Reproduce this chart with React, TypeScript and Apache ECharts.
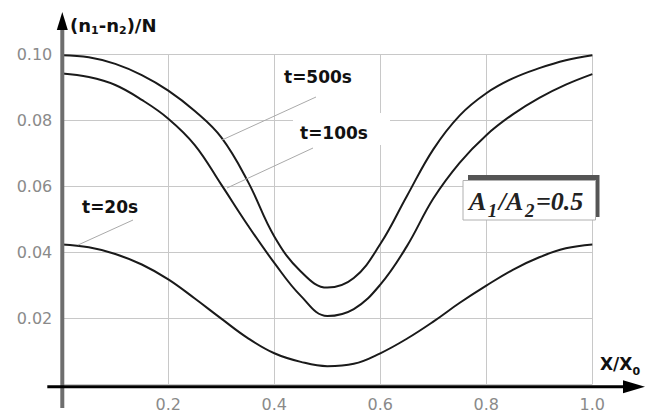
import React, { useEffect, useRef } from 'react';
import * as echarts from 'echarts';

const xValues = [0, 0.05, 0.1, 0.15, 0.2, 0.25, 0.3, 0.35, 0.4, 0.45, 0.5, 0.55, 0.6, 0.65, 0.7, 0.75, 0.8, 0.85, 0.9, 0.95, 1.0];
const t500 = [0.0997, 0.0991, 0.0971, 0.0937, 0.089, 0.0828, 0.0748, 0.0615, 0.0448, 0.0342, 0.0293, 0.0322, 0.0425, 0.057, 0.0712, 0.0815, 0.0882, 0.0927, 0.0958, 0.0982, 0.0997];
const t100 = [0.0942, 0.0931, 0.0907, 0.0862, 0.0805, 0.0725, 0.0605, 0.0482, 0.0368, 0.0268, 0.0207, 0.0228, 0.0302, 0.0418, 0.0563, 0.0672, 0.0755, 0.0818, 0.0868, 0.0908, 0.094];
const t20 = [0.0424, 0.0415, 0.0395, 0.0363, 0.0318, 0.026, 0.0199, 0.014, 0.0094, 0.0068, 0.0055, 0.0062, 0.0094, 0.0138, 0.019, 0.0247, 0.0299, 0.0347, 0.0385, 0.0412, 0.0424];
const seriesNames = ['t=500s', 't=100s', 't=20s'];
const xRange = [0, 1.0];
const yRange = [0, 0.1];
const xStep = 0.2;
const yStep = 0.02;

const FONT = 'DejaVu Sans';
const SERIF = 'Liberation Serif';

type Part = { t: string; size: number; dy: number; gap?: number };

function measure(text: string, font: string): number {
  const c = document.createElement('canvas').getContext('2d');
  if (!c) return text.length * 8;
  c.font = font;
  return c.measureText(text).width;
}

function textRow(parts: Part[], x: number, cy: number, family: string, weight: string, italic: boolean, fill: string, z: number) {
  const els: any[] = [];
  let cx = x;
  for (const p of parts) {
    cx += p.gap || 0;
    const font = `${italic ? 'italic ' : ''}${weight} ${p.size}px "${family}"`;
    els.push({
      type: 'text', z, x: cx, y: cy + p.dy,
      style: {
        text: p.t, fontFamily: family, fontWeight: weight, fontStyle: italic ? 'italic' : 'normal',
        fontSize: p.size, fill, verticalAlign: 'middle', align: 'left',
      },
    });
    cx += measure(p.t, font) + (p.gap || 0);
  }
  return els;
}

export default function App() {
  const ref = useRef<HTMLDivElement>(null);
  useEffect(() => {
    if (!ref.current) return;
    const chart = echarts.init(ref.current, null, { renderer: 'svg' });
    const mk = (name: string, ys: number[]) => ({
      name,
      type: 'line',
      data: xValues.map((x, i) => [x, ys[i]]),
      smooth: 0.4,
      showSymbol: false,
      lineStyle: { color: '#1a1a1a', width: 2 },
      z: 5,
    });
    chart.setOption({
      animation: false,
      backgroundColor: '#ffffff',
      grid: { left: 62.3, right: 67.7, top: 54.3, bottom: 29.7 },
      xAxis: {
        type: 'value',
        min: xRange[0],
        max: xRange[1],
        interval: xStep,
        axisLine: { show: false },
        axisTick: { show: false },
        splitLine: { show: true, lineStyle: { color: '#c8c8c8', width: 1 } },
        axisLabel: {
          margin: 12,
          fontSize: 16,
          color: '#8a8a8a',
          fontFamily: FONT,
          formatter: (v: number) => (v === 0 ? '' : v.toFixed(1)),
        },
      },
      yAxis: {
        type: 'value',
        min: yRange[0],
        max: yRange[1],
        interval: yStep,
        axisLine: { show: false },
        axisTick: { show: false },
        splitLine: { show: true, lineStyle: { color: '#c8c8c8', width: 1 } },
        axisLabel: {
          margin: 10,
          fontSize: 16,
          color: '#8a8a8a',
          fontFamily: FONT,
          formatter: (v: number) => (v === 0 ? '' : v.toFixed(2)),
        },
      },
      series: [mk(seriesNames[0], t500), mk(seriesNames[1], t100), mk(seriesNames[2], t20)],
    });

    const o = chart.convertToPixel({ gridIndex: 0 }, [0, 0]) as number[];
    const ox = o[0];
    const oy = o[1] + 2.5;
    const labelStyle = { fontFamily: FONT, fontWeight: 'bold', fontSize: 17, fill: '#111' };
    const yTitle = textRow(
      [
        { t: '(n', size: 18, dy: 0 },
        { t: '1', size: 11, dy: 5.5 },
        { t: '-n', size: 18, dy: 0 },
        { t: '2', size: 11, dy: 5.5 },
        { t: ')/N', size: 18, dy: 0 },
      ],
      70, 25, FONT, 'bold', false, '#111', 22,
    );
    const xTitle = textRow(
      [
        { t: 'X/X', size: 17, dy: 0 },
        { t: '0', size: 11, dy: 7 },
      ],
      600, 364, FONT, 'bold', false, '#111', 22,
    );
    const boxText = textRow(
      [
        { t: 'A', size: 26, dy: 0 },
        { t: '1', size: 19, dy: 9, gap: 1.5 },
        { t: '/A', size: 26, dy: 0 },
        { t: '2', size: 19, dy: 9, gap: 1.5 },
        { t: '=0.5', size: 26, dy: 0 },
      ],
      469, 201, SERIF, 'bold', true, '#222', 22,
    );
    chart.setOption({
      graphic: [
        // y axis
        { type: 'line', z: 20, shape: { x1: ox, y1: 408, x2: ox, y2: 28 }, style: { stroke: '#6e6e6e', lineWidth: 4 } },
        { type: 'polygon', z: 21, shape: { points: [[ox, 12], [ox - 5.5, 30], [ox + 5.5, 30]] }, style: { fill: '#000' } },
        // x axis
        { type: 'line', z: 20, shape: { x1: ox - 15, y1: oy, x2: 626, y2: oy }, style: { stroke: '#000', lineWidth: 3 } },
        { type: 'polygon', z: 21, shape: { points: [[623, oy - 6.5], [645, oy], [623, oy + 6.5]] }, style: { fill: '#000' } },
        ...yTitle,
        ...xTitle,
        // leader lines
        { type: 'line', z: 12, shape: { x1: 222, y1: 140, x2: 316, y2: 97 }, style: { stroke: '#aaaaaa', lineWidth: 1 } },
        { type: 'line', z: 12, shape: { x1: 227, y1: 188, x2: 313, y2: 148 }, style: { stroke: '#aaaaaa', lineWidth: 1 } },
        { type: 'line', z: 12, shape: { x1: 78, y1: 245, x2: 133, y2: 220 }, style: { stroke: '#aaaaaa', lineWidth: 1 } },
        // white patch behind t=100s
        { type: 'rect', z: 11, shape: { x: 293, y: 113, width: 97, height: 32 }, style: { fill: '#fff' } },
        // curve labels
        { type: 'text', z: 22, x: 284, y: 77, style: { ...labelStyle, text: seriesNames[0], verticalAlign: 'middle' } },
        { type: 'text', z: 22, x: 300, y: 133, style: { ...labelStyle, text: seriesNames[1], verticalAlign: 'middle' } },
        { type: 'text', z: 22, x: 82, y: 207, style: { ...labelStyle, text: seriesNames[2], verticalAlign: 'middle' } },
        // A1/A2 box
        { type: 'rect', z: 13, shape: { x: 468, y: 175, width: 131, height: 5 }, style: { fill: '#555' } },
        { type: 'rect', z: 13, shape: { x: 595.5, y: 175, width: 4, height: 42 }, style: { fill: '#555' } },
        { type: 'rect', z: 14, shape: { x: 463, y: 180.5, width: 132.5, height: 39.5 }, style: { fill: '#fff', stroke: '#b0b0b0', lineWidth: 1 } },
        ...boxText,
      ],
    });
    return () => chart.dispose();
  }, []);
  return <div ref={ref} style={{ width: 660, height: 414, position: 'absolute', left: 0, top: 0 }} />;
}
